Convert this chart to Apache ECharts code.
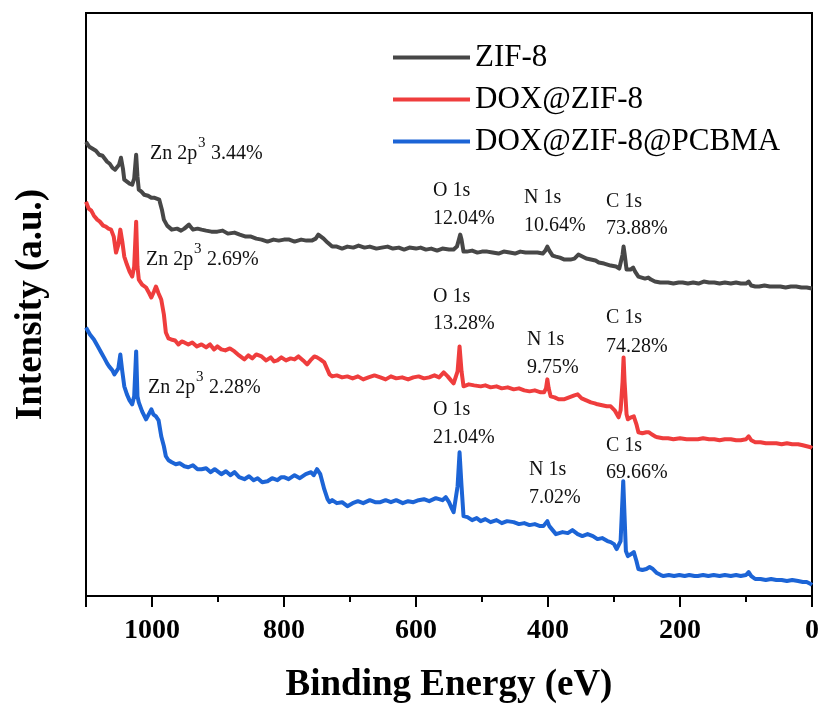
<!DOCTYPE html>
<html>
<head>
<meta charset="utf-8">
<script src="https://cdn.jsdelivr.net/npm/echarts@6/dist/echarts.min.js"></script>
<style>
  html, body { margin: 0; padding: 0; background: #fff; }
  #chart { width: 822px; height: 709px; }
</style>
</head>
<body>
<div id="chart"></div>
<script>
// XPS survey spectra, [binding energy (eV), intensity (a.u.)]
const zif8 = [
  [1100,455],[1095,450],[1090,448],[1085,446],[1080,442],[1075,441],[1073,440],[1068,435],[1064,433],[1060,429],
  [1056,427],[1053,425],[1050,432],[1047,439],[1044,428],[1042,417],[1038,415],[1034,413],[1030,412],[1027,418],
  [1024,442],[1022,420],[1020,407],[1016,405],[1012,402],[1006,401],[1001,399],[997,399],[993,398],[989,397],
  [985,387],[982,377],[977,371],[970,367],[962,368],[956,366],[951,368],[944,372],[938,367],[931,368],
  [925,367],[918,366],[910,365],[901,365],[893,366],[885,363],[875,364],[867,362],[858,360],[850,360],
  [842,358],[834,357],[825,355],[816,357],[808,356],[800,357],[792,357],[784,355],[774,357],[766,356],
  [758,356],[752,358],[748,362],[745,364],[740,358],[734,354],[727,350],[720,350],[712,348],[704,350],
  [695,349],[687,351],[678,349],[670,350],[660,348],[652,349],[643,350],[635,348],[626,349],[618,347],
  [610,349],[600,348],[593,349],[585,347],[577,348],[568,346],[560,348],[550,347],[543,347],[538,350],
  [535,357],[533,362],[531,357],[528,345],[523,345],[515,346],[507,344],[500,345],[492,345],[484,344],
  [475,343],[467,345],[458,344],[450,343],[442,345],[434,344],[425,344],[416,344],[408,343],[404,346],
  [401,350],[398,346],[393,341],[388,340],[382,339],[375,337],[366,337],[360,338],[354,342],[348,340],
  [342,338],[335,337],[328,336],[323,334],[315,333],[305,331],[297,330],[292,328],[289,330],[287,342],
  [285.5,350],[284,343],[281,327],[279,325],[275,327],[271,329],[268,325],[263,320],[258,319],[253,318],
  [248,319],[244,317],[238,315],[230,314],[226,314],[218,314],[210,313],[202,314],[196,314],[188,313],
  [180,314],[172,313],[164,315],[156,314],[148,314],[140,313],[132,314],[123,313],[115,314],[108,313],
  [100,313],[96,315],[92,311],[86,310],[80,310],[72,311],[64,310],[56,310],[48,310],[40,309],
  [32,310],[24,310],[16,309],[8,309],[0,308]
];

const doxZif8 = [
  [1100,395],[1096,388],[1092,386],[1088,381],[1083,377],[1079,375],[1074,371],[1070,370],[1066,368],[1062,367],
  [1058,360],[1054.5,344],[1051,352],[1048,367],[1045,355],[1042,340],[1038,332],[1034,325],[1030,320],[1027,330],
  [1024,375],[1022,330],[1020,317],[1015,312],[1009,309],[1004,303],[1001,299],[997,305],[994,310],[990,303],
  [986,297],[982,282],[979,264],[975,258],[971,257],[965,256],[960,252],[955,255],[951,254],[945,252],
  [939,254],[932,250],[925,252],[918,249],[912,252],[906,247],[901,250],[895,247],[889,246],[882,248],
  [875,245],[868,241],[860,237],[854,241],[848,238],[842,242],[834,240],[827,236],[820,239],[815,235],
  [810,236],[804,239],[797,236],[790,238],[784,237],[778,240],[771,236],[765,232],[760,236],[754,240],
  [750,239],[745,237],[739,234],[735,228],[731,222],[727,220],[720,221],[712,219],[704,220],[696,218],
  [688,220],[680,217],[672,219],[663,221],[654,219],[646,217],[638,220],[630,218],[621,219],[612,217],
  [604,219],[596,220],[588,218],[580,219],[572,221],[565,219],[558,224],[552,220],[547,216],[543,213],
  [540,212],[537,225],[534,250],[531,225],[528,210],[520,212],[512,211],[502,210],[495,211],[487,209],
  [478,210],[470,208],[461,209],[452,207],[444,208],[436,206],[428,205],[420,206],[411,204],[406,204],
  [403,208],[401,217],[399,208],[396,200],[390,199],[384,197],[376,197],[368,199],[360,201],[355,202],
  [349,198],[342,196],[335,194],[329,193],[325,192],[318,191],[311,190],[305,190],[299,186],[293,179],
  [290,186],[287,215],[285.5,239],[284,215],[281,182],[279,177],[274,179],[270,180],[266,172],[263,164],
  [257,163],[251,164],[247,164],[243,162],[238,160],[234,159],[226,158],[218,158],[210,157],[200,158],
  [190,157],[180,157],[173,157],[165,158],[156,157],[148,157],[140,156],[132,157],[123,157],[115,156],
  [108,156],[100,157],[96,160],[92,156],[86,154],[78,154],[70,153],[62,153],[54,153],[46,152],
  [38,153],[30,152],[21,152],[14,151],[8,150],[2,149],[0,148]
];

const doxZif8Pcbma = [
  [1100,269],[1098.5,268],[1094,262],[1088,257],[1082,250],[1077,244],[1072,238],[1068,233],[1065,230],[1060,226],
  [1057,222],[1054.5,220],[1051,228],[1048,242],[1045,225],[1042,210],[1038,202],[1034,196],[1030,192],[1027,200],
  [1024,245],[1022,200],[1020,194],[1015,185],[1009,177],[1005,182],[1001,187],[998,182],[994,180],[990,176],
  [986,160],[982,150],[979,140],[975,136],[970,134],[964,132],[958,133],[951,130],[945,129],[938,131],
  [931,127],[925,127],[918,128],[911,124],[905,127],[901,125],[895,122],[888,125],[881,121],[875,124],
  [868,119],[860,117],[853,120],[846,116],[840,118],[833,114],[825,115],[818,118],[810,116],[804,119],
  [800,119],[793,117],[784,121],[776,118],[774,120],[767,122],[759,124],[755,121],[750,127],[745,122],
  [739,107],[734,97],[731,94],[727,96],[720,93],[712,94],[704,90],[696,93],[688,95],[680,93],
  [670,96],[662,94],[654,94],[646,96],[638,94],[630,96],[620,93],[612,95],[604,94],[596,96],
  [588,97],[580,95],[570,98],[560,96],[555,99],[550,94],[546,88],[543,84],[540,86],[537,110],
  [534,144],[531,110],[528,80],[522,79],[515,76],[508,78],[502,75],[495,77],[487,74],[478,76],
  [470,73],[462,75],[452,74],[444,72],[436,73],[428,71],[420,72],[412,70],[407,70],[404,72],
  [401,75],[398,70],[393,66],[388,62],[385,62],[378,64],[370,63],[363,66],[361,65],[355,62],
  [348,60],[340,62],[332,60],[325,57],[318,58],[310,55],[305,54],[300,52],[296,47],[293,45],
  [290,55],[288,85],[286,115],[284,80],[282,45],[279,40],[274,42],[270,44],[266,35],[263,27],
  [257,26],[251,27],[246,29],[241,27],[235,23],[229,21],[225,20],[217,21],[209,20],[201,21],
  [193,20],[186,21],[178,20],[173,20],[165,21],[157,20],[149,21],[140,20],[132,21],[123,20],
  [115,21],[108,20],[100,21],[96,24],[92,20],[86,17],[78,17],[70,16],[62,17],[54,16],
  [46,16],[38,15],[30,16],[21,15],[14,14],[8,14],[2,12],[0,11]
];

const seriesNames = ['ZIF-8', 'DOX@ZIF-8', 'DOX@ZIF-8@PCBMA'];
const seriesColors = ['#474747', '#ef3d3d', '#1c64d6'];

// peak labels: [left px, centre px, text]
const peakLabels = [
  [433, 191, 'O 1s'], [433, 219, '12.04%'],
  [524, 198, 'N 1s'], [524, 226, '10.64%'],
  [606, 202, 'C 1s'], [606, 229, '73.88%'],
  [433, 297, 'O 1s'], [433, 324, '13.28%'],
  [527, 340, 'N 1s'], [527, 368, '9.75%'],
  [606, 318, 'C 1s'], [606, 347, '74.28%'],
  [433, 410, 'O 1s'], [433, 438, '21.04%'],
  [529, 470, 'N 1s'], [529, 498, '7.02%'],
  [606, 446, 'C 1s'], [606, 473, '69.66%']
];
const znLabels = [
  [150, 154, '3.44%'],
  [146, 260, '2.69%'],
  [148, 388, '2.28%']
];

const serif = 'Liberation Serif, Times New Roman, serif';

const graphics = [];
peakLabels.forEach(p => {
  graphics.push({
    type: 'text', left: p[0], top: p[1] - 10,
    style: { text: p[2], font: '20px ' + serif, fill: '#111' }
  });
});
znLabels.forEach(z => {
  graphics.push(
    { type: 'text', left: z[0], top: z[1] - 10, style: { text: 'Zn 2p', font: '20px ' + serif, fill: '#111' } },
    { type: 'text', left: z[0] + 48, top: z[1] - 18, style: { text: '3', font: '15px ' + serif, fill: '#111' } },
    { type: 'text', left: z[0] + 61, top: z[1] - 10, style: { text: z[2], font: '20px ' + serif, fill: '#111' } }
  );
});

const chart = echarts.init(document.getElementById('chart'), null, { renderer: 'canvas' });

chart.setOption({
  backgroundColor: '#fff',
  animation: false,
  grid: {
    left: 86, right: 10, top: 13, bottom: 112,
    show: true, borderColor: '#000', borderWidth: 2
  },
  legend: {
    data: seriesNames,
    orient: 'vertical',
    left: 388, top: 37,
    icon: 'rect',
    itemWidth: 77, itemHeight: 4,
    itemGap: 11,
    textStyle: { fontFamily: serif, fontSize: 31, lineHeight: 30, color: '#000' }
  },
  xAxis: {
    type: 'value',
    inverse: true,
    min: 0, max: 1100, interval: 200,
    axisLine: { lineStyle: { color: '#000', width: 2 } },
    axisTick: { length: 11, lineStyle: { color: '#000', width: 2 } },
    minorTick: { show: true, splitNumber: 2, length: 6, lineStyle: { color: '#000', width: 2 } },
    splitLine: { show: false },
    axisLabel: {
      margin: 21, showMaxLabel: false,
      formatter: v => String(v),
      fontFamily: serif, fontWeight: 'bold', fontSize: 28, color: '#000'
    },
    name: 'Binding Energy (eV)',
    nameLocation: 'middle',
    nameGap: 71,
    nameTextStyle: { fontFamily: serif, fontWeight: 'bold', fontSize: 37, color: '#000' }
  },
  yAxis: {
    type: 'value',
    min: 0, max: 584,
    axisLine: { show: true, lineStyle: { color: '#000', width: 2 } },
    axisTick: { show: false },
    axisLabel: { show: false },
    splitLine: { show: false },
    name: 'Intensity (a.u.)',
    nameLocation: 'middle',
    nameGap: 36,
    nameTextStyle: { fontFamily: serif, fontWeight: 'bold', fontSize: 37, color: '#000' }
  },
  series: [zif8, doxZif8, doxZif8Pcbma].map((d, i) => ({
    name: seriesNames[i],
    type: 'line',
    data: d,
    showSymbol: false,
    symbol: 'none',
    color: seriesColors[i],
    lineStyle: { width: 4, color: seriesColors[i], join: 'round' },
    z: 3 - i
  })),
  graphic: graphics
});
</script>
</body>
</html>
